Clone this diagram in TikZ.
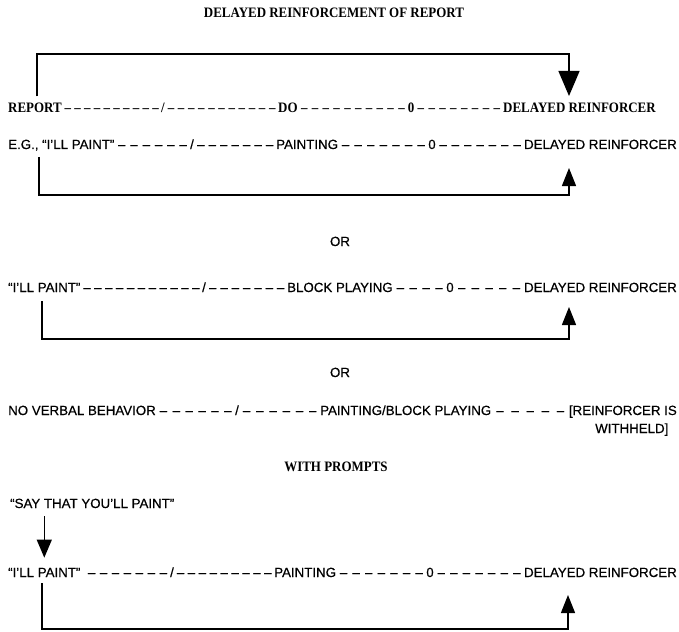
\documentclass[tikz,border=0pt]{standalone}
\usepackage{fontspec}
\setmainfont{Liberation Serif}
\newfontfamily\hsans[FakeBold=0.5]{Liberation Sans}
\newfontfamily\slab[FakeStretch=0.9]{Liberation Serif}
\usetikzlibrary{arrows.meta,calc}
% a run of n evenly spaced dashes filling a given width
\newcommand\drun[3]{\hbox to #1{\xleaders\hbox to \dimexpr(#1-0.5pt)/#2\relax{\hss#3\hss}\hfill}}
% style, from node, to node, number of dashes, left pad
\newcommand\dseg[5]{\path let \p1=($(#2.base east)+(#5+0.8,0)$), \p2=($(#3.base west)+(-0.8,0)$) in
  node[#1, anchor=base west] at (\p1) {\drun{\dimexpr\x2-\x1\relax}{#4}{–}};}
\begin{document}
\begin{tikzpicture}[x=1pt,y=-1pt,
  sl/.style={inner sep=0pt, font=\slab\fontsize{14.4}{16}\selectfont\bfseries},
  sn/.style={inner sep=0pt, font=\hsans\fontsize{13.3}{15}\selectfont},
  conn/.style={line width=1.2pt},
  tipS/.style={-{Triangle[width=14pt,length=18pt]}},
  tipL/.style={-{Triangle[width=21pt,length=25pt]}}]
\fill[white] (0,0) rectangle (679,631);
\useasboundingbox (0,0) rectangle (679,631);

\node[sl, anchor=base] (title) at (334,18) {DELAYED REINFORCEMENT OF REPORT};

% row 1
\node[sl, anchor=base west] (r1a) at (8,113) {REPORT};
\node[sl, anchor=base] (r1b) at (163,113) {/};
\node[sl, anchor=base west] (r1c) at (278,113) {DO};
\node[sl, anchor=base] (r1d) at (411,113) {0};
\node[sl, anchor=base west] (r1e) at (503,113) {DELAYED REINFORCER};
\dseg{sl}{r1a}{r1b}{10}{0}
\dseg{sl}{r1b}{r1c}{11}{0}
\dseg{sl}{r1c}{r1d}{10}{0}
\dseg{sl}{r1d}{r1e}{8}{0}
\coordinate (t1) at (569,96);
\draw[conn,tipL] ([xshift=2pt,yshift=7pt]r1a.north) |- (t1 |- 0,54) -- (t1);

% row 2
\node[sn, anchor=base west] (r2a) at (8,149) {E.G., “I’LL PAINT”};
\node[sn, anchor=base] (r2b) at (192,149) {/};
\node[sn, anchor=base west] (r2c) at (276,149) {PAINTING};
\node[sn, anchor=base] (r2d) at (432,149) {0};
\node[sn, anchor=base east] (r2e) at (677,149) {DELAYED REINFORCER};
\dseg{sn}{r2a}{r2b}{6}{0}
\dseg{sn}{r2b}{r2c}{7}{0}
\dseg{sn}{r2c}{r2d}{7}{0}
\dseg{sn}{r2d}{r2e}{7}{0}
\coordinate (t2) at (569,168);
\draw[conn,tipS] ([xshift=31pt,yshift=-6pt]r2a.south west) |- (t2 |- 0,195) -- (t2);

\node[sn, anchor=base] (or1) at (340,246) {OR};

% row 3
\node[sn, anchor=base west] (r3a) at (8,292) {“I’LL PAINT”};
\node[sn, anchor=base] (r3b) at (204,292) {/};
\node[sn, anchor=base west] (r3c) at (287,292) {BLOCK PLAYING};
\node[sn, anchor=base] (r3d) at (450,292) {0};
\node[sn, anchor=base east] (r3e) at (677,292) {DELAYED REINFORCER};
\dseg{sn}{r3a}{r3b}{11}{0}
\dseg{sn}{r3b}{r3c}{7}{0}
\dseg{sn}{r3c}{r3d}{4}{0}
\dseg{sn}{r3d}{r3e}{5}{0}
\coordinate (t3) at (569,307);
\draw[conn,tipS] ([xshift=34pt,yshift=-9pt]r3a.south west) |- (t3 |- 0,339) -- (t3);

\node[sn, anchor=base] (or2) at (340,377) {OR};

% row 4
\node[sn, anchor=base west] (r4a) at (8,415) {NO VERBAL BEHAVIOR};
\node[sn, anchor=base] (r4b) at (237,415) {/};
\node[sn, anchor=base west] (r4c) at (320,415) {PAINTING/BLOCK PLAYING};
\node[sn, anchor=base east] (r4d) at (677,415) {[REINFORCER IS};
\node[sn, anchor=base west] (r4e) at (595,433) {WITHHELD]};
\dseg{sn}{r4a}{r4b}{6}{0}
\dseg{sn}{r4b}{r4c}{6}{0}
\dseg{sn}{r4c}{r4d}{5}{0}

\node[sl, anchor=base] (wp) at (336,471) {WITH PROMPTS};
\node[sn, anchor=base west] (say) at (10,508) {“SAY THAT YOU’LL PAINT”};

% row 5
\node[sn, anchor=base west] (r5a) at (8,577) {“I’LL PAINT”};
\node[sn, anchor=base] (r5b) at (172,577) {/};
\node[sn, anchor=base west] (r5c) at (274,577) {PAINTING};
\node[sn, anchor=base] (r5d) at (430,577) {0};
\node[sn, anchor=base east] (r5e) at (677,577) {DELAYED REINFORCER};
\dseg{sn}{r5a}{r5b}{7}{4}
\dseg{sn}{r5b}{r5c}{9}{0}
\dseg{sn}{r5c}{r5d}{7}{0}
\dseg{sn}{r5d}{r5e}{7}{0}
\draw[conn,-{Triangle[width=15pt,length=18pt]}] (say.south -| r5a.north) ++(0,8) -- ([yshift=10pt]r5a.north);
\coordinate (t5) at (568,595);
\draw[conn,tipS] ([xshift=34pt,yshift=-6pt]r5a.south west) |- (t5 |- 0,629) -- (t5);
\end{tikzpicture}
\end{document}
